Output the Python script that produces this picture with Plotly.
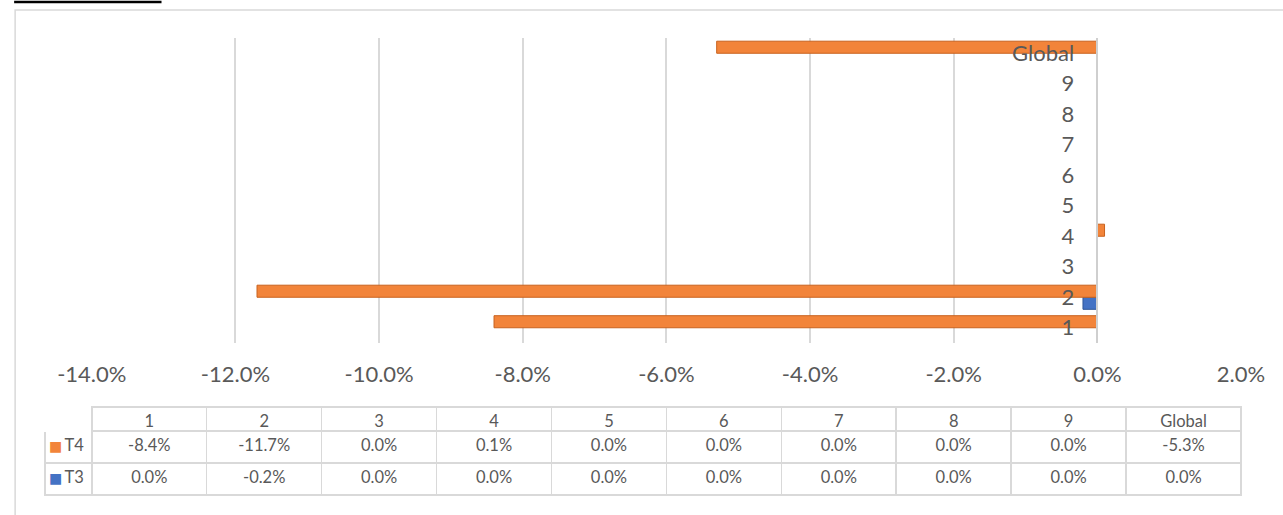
import plotly.graph_objects as go

categories = ["1", "2", "3", "4", "5", "6", "7", "8", "9", "Global"]
t4_values = [-0.084, -0.117, 0.0, 0.001, 0.0, 0.0, 0.0, 0.0, 0.0, -0.053]
t3_values = [0.0, -0.002, 0.0, 0.0, 0.0, 0.0, 0.0, 0.0, 0.0, 0.0]
series_names = ["T4", "T3"]
x_ticks = [-0.14, -0.12, -0.10, -0.08, -0.06, -0.04, -0.02, 0.0, 0.02]

ORANGE = "#F2843A"
BLUE = "#4472C4"
GRID = "#d9d9d9"
TXT = "#595959"
FONT = "Lato"

W, H = 1283, 515
ML, MR, MT, MB = 40, 42, 38, 10
pw = W - ML - MR
ph = H - MT - MB


def px_x(px):
    return (px - ML) / pw


def px_y(py):
    return (H - MB - py) / ph


x_dom0 = px_x(87)
y_dom0 = px_y(343)
xmin, xmax = -0.14, 0.02
zero_pos = x_dom0 + (0 - xmin) / (xmax - xmin) * (1 - x_dom0)


def pct(v):
    s = f"{v * 100:.1f}%"
    return "0.0%" if s == "-0.0%" else s


fig = go.Figure()
fig.add_trace(go.Bar(
    y=categories, x=t3_values, orientation="h", name="T3",
    marker=dict(color=BLUE, line=dict(color="#2F5597", width=1)),
    xaxis="x", yaxis="y", showlegend=False, hoverinfo="x+y",
))
fig.add_trace(go.Bar(
    y=categories, x=t4_values, orientation="h", name="T4",
    marker=dict(color=ORANGE, line=dict(color="#C8621E", width=1)),
    xaxis="x", yaxis="y", showlegend=False, hoverinfo="x+y",
))

label_col = list(series_names)
cell_values = [label_col] + [[pct(a), pct(b)] for a, b in zip(t4_values, t3_values)]
header_vals = [""] + categories

fig.add_trace(go.Table(
    domain=dict(x=[0, 1], y=[px_y(502), px_y(407)]),
    columnwidth=[47] + [115.4] * len(categories),
    header=dict(
        values=header_vals,
        fill_color="white",
        line=dict(color=["white"] + [GRID] * len(categories), width=1.5),
        font=dict(family=FONT, size=16.5, color=TXT),
        align="center",
        height=24,
    ),
    cells=dict(
        values=cell_values,
        fill_color="white",
        line=dict(color=GRID, width=1.5),
        font=dict(family=FONT, size=16.5, color=TXT),
        align=["right"] + ["center"] * len(categories),
        height=32,
    ),
))

# legend keys inside the table's label column
key_colors = [ORANGE, BLUE]
key_rows_y = [446, 478]
annotations = [
    dict(text="■", x=px_x(51), y=px_y(yy), xref="paper", yref="paper",
         showarrow=False, font=dict(size=14, color=c, family="DejaVu Sans"),
         xanchor="center", yanchor="middle")
    for c, yy in zip(key_colors, key_rows_y)
]

fig.update_layout(
    width=W, height=H,
    margin=dict(l=ML, r=MR, t=MT, b=MB, pad=0),
    paper_bgcolor="white", plot_bgcolor="white",
    barmode="group", bargap=0.21, bargroupgap=0,
    font=dict(family=FONT, color=TXT),
    xaxis=dict(
        domain=[x_dom0, 1], anchor="y",
        range=[xmin, xmax], tickvals=x_ticks, ticktext=[pct(v) for v in x_ticks],
        showgrid=True, gridcolor=GRID, gridwidth=1.5,
        zeroline=False, showline=False,
        ticks="outside", ticklen=12, tickcolor="rgba(0,0,0,0)",
        tickfont=dict(family=FONT, size=22, color=TXT),
    ),
    yaxis=dict(
        domain=[y_dom0, 1], anchor="free", position=zero_pos,
        type="category", categoryorder="array", categoryarray=categories,
        range=[-0.5, len(categories) - 0.5],
        showgrid=False, zeroline=False,
        showline=True, linecolor="#cfcfcf", linewidth=1.5,
        ticks="outside", ticklen=18, tickcolor="rgba(0,0,0,0)",
        tickfont=dict(family=FONT, size=22, color=TXT),
    ),
    annotations=annotations,
    shapes=[
        dict(type="rect", xref="paper", yref="paper",
             x0=px_x(10), x1=px_x(1300), y0=px_y(530), y1=px_y(10),
             line=dict(color="#d9d9d9", width=1.5), fillcolor="rgba(0,0,0,0)", layer="below"),
        dict(type="line", xref="paper", yref="paper",
             x0=px_x(9), x1=px_x(157), y0=px_y(2), y1=px_y(2),
             line=dict(color="black", width=2.5)),
    ],
)

fig.write_html(
    "out.html",
    config={"displayModeBar": False},
    post_script="document.body.style.margin='0';document.documentElement.style.overflow='hidden';",
)
